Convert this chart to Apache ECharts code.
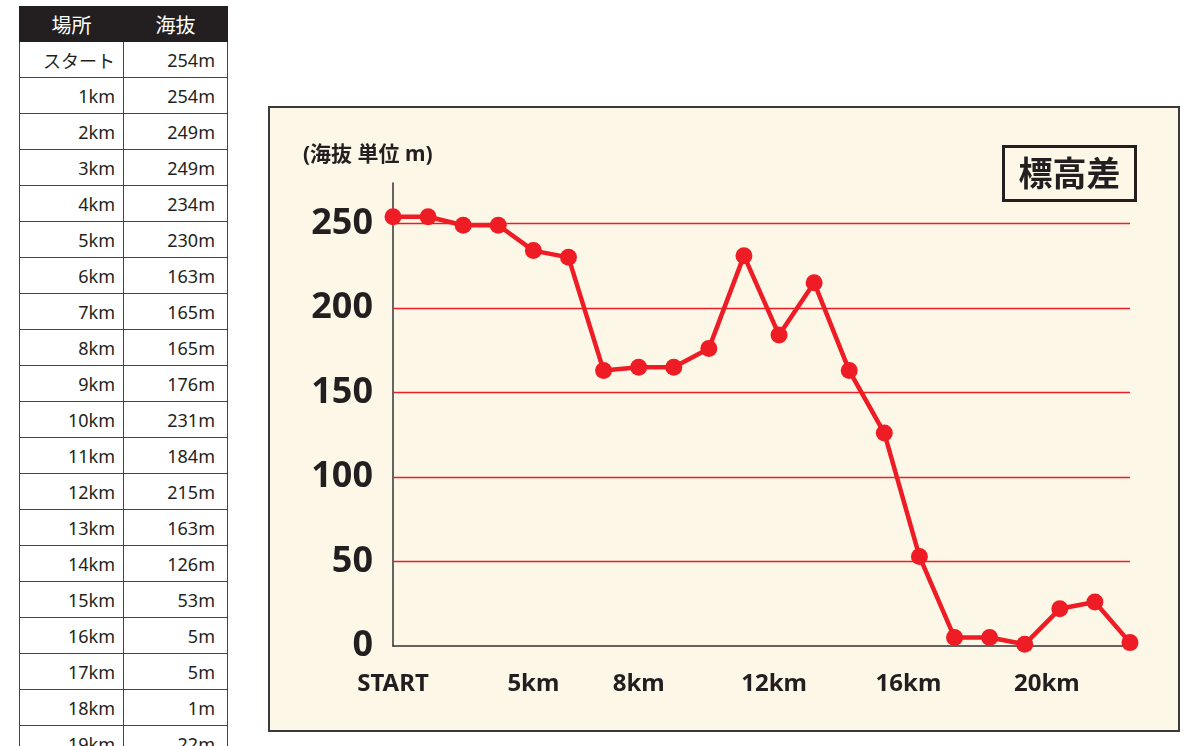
<!DOCTYPE html>
<html>
<head>
<meta charset="utf-8">
<script src="https://cdn.jsdelivr.net/npm/echarts@6/dist/echarts.min.js"></script>
<style>
html, body { margin: 0; padding: 0; width: 1200px; height: 746px; overflow: hidden; background: #fff; }
#elevTable {
    position: absolute; left: 19px; top: 6px;
    border-collapse: collapse;
    font-family: "Noto Sans", "Noto Sans CJK JP", sans-serif;
    color: #231f20;
}
#elevTable th {
    background: #231f20; color: #fff; font-weight: normal; font-size: 20px;
    height: 34px; padding: 0; text-align: center; border: 1px solid #231f20;
}
#elevTable td {
    height: 35px; padding: 0 10px 0 0; text-align: right; font-size: 18px;
    border: 1px solid #444;
}
#elevTable td.place { width: 95px; padding-right: 8px; }
#elevTable td.val { width: 91px; padding-right: 12px; }
#chartLine {
    position: absolute; left: 268px; top: 106px;
    width: 912px; height: 626px; box-sizing: border-box;
    border: 2px solid #3a3a3a; background: #fdf7e8;
}
</style>
</head>
<body>
<table id="elevTable"></table>
<div id="chartLine"></div>
<script>
// 場所と海抜
var places = ['スタート', '1km', '2km', '3km', '4km', '5km', '6km', '7km', '8km', '9km', '10km',
    '11km', '12km', '13km', '14km', '15km', '16km', '17km', '18km', '19km', '20km', '21km'];
var elevations = [254, 254, 249, 249, 234, 230, 163, 165, 165, 176, 231,
    184, 215, 163, 126, 53, 5, 5, 1, 22, 26, 2];
// x軸に出すラベル
var xTickLabels = ['START', '', '', '', '5km', '', '', '8km', '', '', '', '12km',
    '', '', '', '16km', '', '', '', '20km', '', ''];
var yTicks = [0, 50, 100, 150, 200, 250];

//#region 表
var table = document.getElementById('elevTable');
var html = '<tr><th>場所</th><th>海抜</th></tr>';
for (var i = 0; i < places.length; i++) {
    html += '<tr><td class="place">' + places[i] + '</td><td class="val">' + elevations[i] + 'm</td></tr>';
}
table.innerHTML = html;
//#endregion

//#region 折れ線グラフ
var myChart = echarts.init(document.getElementById('chartLine'));
var red = '#ee1c25';
var dark = '#231f20';
// 後半のラベルは少し左寄せ
var labelShift = { '12km': 's1', '16km': 's2', '20km': 's3' };
var option = {
    backgroundColor: 'rgba(0,0,0,0)',
    animation: false,
    textStyle: { fontFamily: '"Noto Sans", "Noto Sans CJK JP", sans-serif' },
    grid: {
        left: 123,
        right: 48,
        top: 75,
        bottom: 84
    },
    graphic: [
        {
            type: 'text',
            left: 33,
            top: 37,
            style: {
                text: '(海抜 単位 m)',
                font: 'bold 21px "Noto Sans", "Noto Sans CJK JP", sans-serif',
                fill: dark
            }
        },
        {
            type: 'group',
            left: 732,
            top: 37,
            children: [
                {
                    type: 'rect',
                    shape: { x: 0, y: 0, width: 132, height: 54 },
                    style: { fill: 'rgba(0,0,0,0)', stroke: dark, lineWidth: 3 }
                },
                {
                    type: 'text',
                    x: 66,
                    y: 27,
                    style: {
                        text: '標高差',
                        font: 'bold 34px "Noto Sans CJK JP", sans-serif',
                        fill: dark,
                        align: 'center',
                        verticalAlign: 'middle'
                    }
                }
            ]
        }
    ],
    xAxis: [{
        type: 'category',
        boundaryGap: false,
        data: places,
        axisLine: { show: true, lineStyle: { color: '#333', width: 1.5 } },
        axisTick: { show: false },
        splitLine: { show: false },
        axisLabel: {
            interval: 0,
            margin: 26,
            color: dark,
            fontSize: 24,
            fontWeight: 'bold',
            formatter: function (v, idx) {
                var t = xTickLabels[idx];
                if (t && labelShift[t]) return '{' + labelShift[t] + '|' + t + '}';
                return t;
            },
            rich: {
                s1: { fontSize: 24, fontWeight: 'bold', color: dark, padding: [0, 10, 0, 0] },
                s2: { fontSize: 24, fontWeight: 'bold', color: dark, padding: [0, 22, 0, 0] },
                s3: { fontSize: 24, fontWeight: 'bold', color: dark, padding: [0, 26, 0, 0] }
            }
        }
    }],
    yAxis: [{
        type: 'value',
        min: 0,
        max: 274,
        interval: 50,
        axisLine: { show: true, lineStyle: { color: '#333', width: 1.5 } },
        axisTick: { show: false },
        splitLine: { show: false },
        axisLabel: {
            margin: 20,
            color: dark,
            fontSize: 36,
            fontWeight: 'bold',
            showMaxLabel: false,
            formatter: function (v) { return yTicks.indexOf(v) >= 0 ? String(v) : ''; }
        }
    }],
    series: [{
        name: '海抜',
        type: 'line',
        data: elevations,
        symbol: 'circle',
        symbolSize: 17,
        showAllSymbol: true,
        lineStyle: { color: red, width: 4.5 },
        itemStyle: { color: red },
        markLine: {
            silent: true,
            symbol: 'none',
            label: { show: false },
            lineStyle: { color: red, width: 1.3, type: 'solid' },
            data: yTicks.filter(function (v) { return v > 0; }).map(function (v) { return { yAxis: v }; })
        },
        z: 3
    }]
};
myChart.setOption(option);
//#endregion
</script>
</body>
</html>
